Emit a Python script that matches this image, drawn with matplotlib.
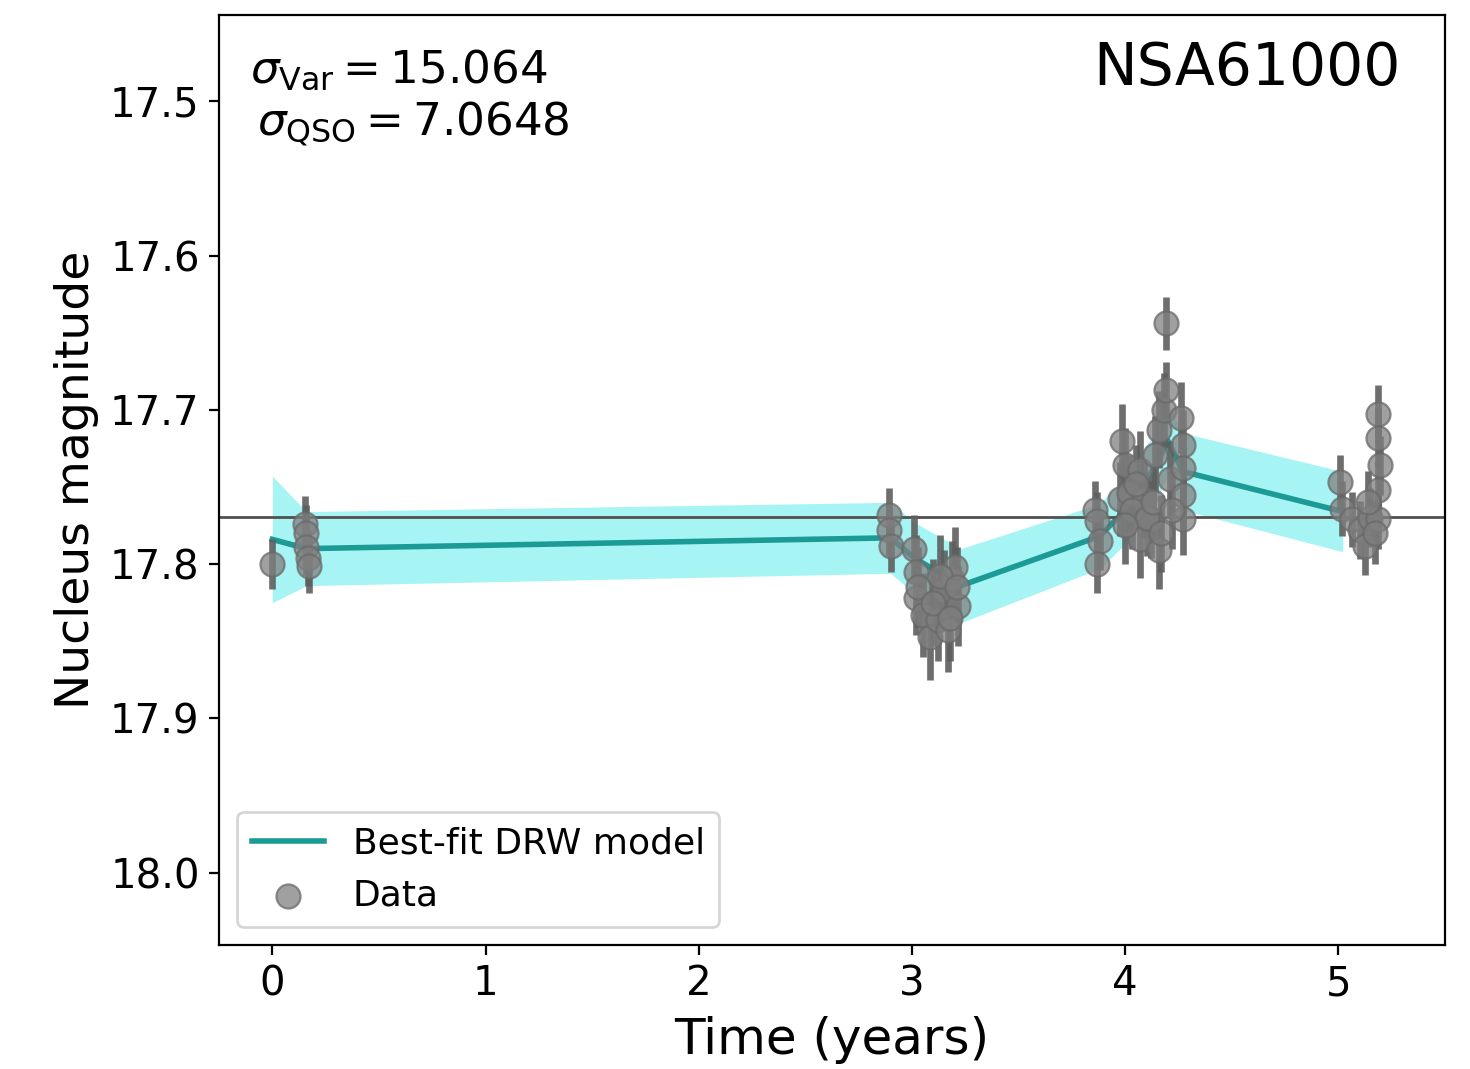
import numpy as np
import matplotlib as mpl
mpl.use("Agg")
import matplotlib.pyplot as plt

# observed nucleus magnitudes (time in years)
t_obs = [0.0,
         0.155, 0.16, 0.16, 0.165, 0.17,
         2.89, 2.89, 2.90,
         3.01, 3.02, 3.02, 3.05, 3.085, 3.12, 3.15, 3.17, 3.19, 3.20, 3.215,
         3.03, 3.10, 3.13, 3.18, 3.21,
         3.86, 3.87, 3.88, 3.87,
         3.985, 4.00, 3.976, 4.02, 4.07, 4.09, 4.07, 4.12, 4.14, 4.16,
         4.18, 4.19, 4.19, 4.16, 4.21, 4.26, 4.27, 4.27, 4.27, 4.27,
         4.03, 4.05, 4.10, 4.13, 4.17, 4.22, 4.00,
         5.007, 5.016, 5.063, 5.10, 5.124, 5.15, 5.185, 5.185, 5.195, 5.185, 5.185,
         5.14, 5.17]
mag_obs = [17.800,
           17.774, 17.780, 17.789, 17.796, 17.801,
           17.768, 17.778, 17.788,
           17.790, 17.805, 17.822, 17.833, 17.847, 17.836, 17.817, 17.843, 17.810, 17.802, 17.827,
           17.815, 17.825, 17.808, 17.835, 17.815,
           17.765, 17.772, 17.785, 17.800,
           17.720, 17.736, 17.758, 17.754, 17.739, 17.758, 17.784, 17.771, 17.729, 17.713,
           17.700, 17.687, 17.644, 17.791, 17.745, 17.705, 17.723, 17.738, 17.755, 17.771,
           17.765, 17.748, 17.770, 17.760, 17.780, 17.765, 17.775,
           17.747, 17.764, 17.771, 17.778, 17.788, 17.770, 17.703, 17.718, 17.736, 17.752, 17.771,
           17.760, 17.780]
err_obs = [0.016,
           0.018, 0.018, 0.018, 0.018, 0.018,
           0.017, 0.017, 0.017,
           0.022, 0.024, 0.024, 0.027, 0.028, 0.027, 0.026, 0.027, 0.025, 0.026, 0.026,
           0.026, 0.028, 0.027, 0.028, 0.026,
           0.019, 0.019, 0.019, 0.019,
           0.024, 0.024, 0.024, 0.025, 0.025, 0.025, 0.025, 0.025, 0.025, 0.025,
           0.024, 0.018, 0.017, 0.025, 0.025, 0.023, 0.023, 0.023, 0.023, 0.023,
           0.025, 0.025, 0.025, 0.025, 0.025, 0.025, 0.025,
           0.018, 0.018, 0.018, 0.019, 0.019, 0.019, 0.019, 0.019, 0.019, 0.019, 0.019,
           0.020, 0.020]

# best-fit DRW model (mean and 1-sigma)
t_mod = [0.0, 0.16, 2.90, 3.01, 3.23, 3.88, 4.00, 4.15, 4.20, 4.27, 5.02]
mag_mod = [17.784, 17.790, 17.783, 17.796, 17.814, 17.782, 17.765, 17.735, 17.720, 17.740, 17.766]
sig_mod = [0.041, 0.024, 0.023, 0.023, 0.024, 0.021, 0.022, 0.022, 0.023, 0.025, 0.026]

mean_mag = 17.7695
name = "NSA61000"
sigma_var = "15.064"
sigma_qso = "7.0648"

C_MOD = "#1c9a96"
C_BAND = "#a6f4f4"

fig = plt.figure(figsize=(7.35, 5.345), dpi=200)
ax = fig.add_axes([0.149, 0.116, 0.834, 0.870])

t_mod = np.array(t_mod)
mag_mod = np.array(mag_mod)
sig_mod = np.array(sig_mod)
ax.fill_between(t_mod, mag_mod - sig_mod, mag_mod + sig_mod, color=C_BAND, lw=0)
ax.plot(t_mod, mag_mod, color=C_MOD, lw=2.0, label="Best-fit DRW model")
ax.axhline(mean_mag, color="#505050", lw=1.0)

ax.errorbar(t_obs, mag_obs, yerr=err_obs, fmt="none", ecolor="#5e5e5e", elinewidth=2.4, alpha=0.9)
ax.scatter(t_obs, mag_obs, s=75, color="gray", alpha=0.75, lw=0.8, edgecolor="#6a6a6a",
           label="Data", zorder=3)

ax.set_xlim(-0.25, 5.5)
ax.set_ylim(18.047, 17.444)
ax.set_yticks([17.5, 17.6, 17.7, 17.8, 17.9, 18.0])
ax.set_xticks([0, 1, 2, 3, 4, 5])
ax.tick_params(labelsize=14.5)
ax.set_xlabel("Time (years)", fontsize=18)
ax.set_ylabel("Nucleus magnitude", fontsize=17)

ax.text(0.025, 0.927, r"$\sigma_{\rm Var} = $" + sigma_var, transform=ax.transAxes,
        fontsize=16.3, va="baseline", ha="left")
ax.text(0.031, 0.871, r"$\sigma_{\rm QSO} = $" + sigma_qso, transform=ax.transAxes,
        fontsize=16.3, va="baseline", ha="left")
ax.text(0.964, 0.925, name, transform=ax.transAxes, fontsize=21, va="baseline", ha="right")

ax.legend(loc="lower left", fontsize=13)

fig.savefig("out.png", dpi=200)
